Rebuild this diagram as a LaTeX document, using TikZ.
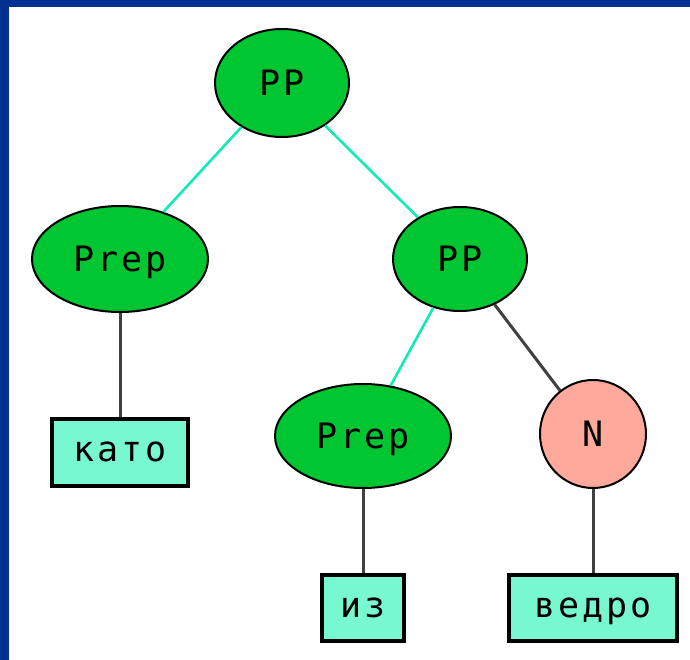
\documentclass[tikz,border=0pt]{standalone}
\usepackage{fontspec}
\usetikzlibrary{shapes.geometric}
\newfontfamily\treefont[LetterSpace=8]{DejaVu Sans Mono}
\definecolor{frameblue}{HTML}{003090}
\definecolor{phrasegreen}{HTML}{00C632}
\definecolor{nounpink}{HTML}{FFA89C}
\definecolor{leafmint}{HTML}{78F8D0}
\definecolor{linkcyan}{HTML}{10ECB4}
\definecolor{linkgray}{HTML}{404040}
\begin{document}
\begin{tikzpicture}[x=1pt,y=-1pt,
  treetext/.style={font=\treefont\fontsize{35}{38}\selectfont, text=black, inner sep=0pt},
  phrase/.style={ellipse, treetext, text height=25.5pt, text depth=0pt, draw=black, line width=2pt, fill=phrasegreen},
  noun/.style={ellipse, treetext, text height=25.5pt, text depth=0pt, draw=black, line width=2pt, fill=nounpink},
  leaf/.style={rectangle, treetext, text height=19pt, text depth=0pt, draw=black, line width=4pt, fill=leafmint},
  cyanlink/.style={draw=linkcyan, line width=2.6pt},
  graylink/.style={draw=linkgray, line width=3pt}]
  \useasboundingbox (0,0) rectangle (690,660);
  % frame strips along the top and left
  \fill[frameblue] (0,0) rectangle (690,7);
  \fill[frameblue] (0,0) rectangle (9,660);

  % tree nodes
  \node[phrase, minimum width=134pt, minimum height=108pt] (pp1) at (282,83) {PP};
  \node[phrase, minimum width=176pt, minimum height=106pt] (prep1) at (120,259) {Prep};
  \node[phrase, minimum width=134pt, minimum height=104pt] (pp2) at (460,259) {PP};
  \node[phrase, minimum width=176pt, minimum height=104pt] (prep2) at (363,436) {Prep};
  \node[noun, minimum width=106pt, minimum height=108pt] (n) at (593,434) {N};
  \node[leaf, minimum width=136pt, minimum height=67pt] (kato) at (120,452) {като};
  \node[leaf, minimum width=82pt, minimum height=66pt] (iz) at (363,608) {из};
  \node[leaf, minimum width=168pt, minimum height=66pt] (vedro) at (593,608) {ведро};

  % branches
  \draw[cyanlink] (pp1) -- (prep1);
  \draw[cyanlink] (pp1) -- (pp2);
  \draw[cyanlink] (pp2) -- (prep2);
  \draw[graylink] (pp2) -- (n);
  \draw[graylink] (prep1) -- (kato);
  \draw[graylink] (prep2) -- (iz);
  \draw[graylink] (n) -- (vedro);
\end{tikzpicture}
\end{document}
